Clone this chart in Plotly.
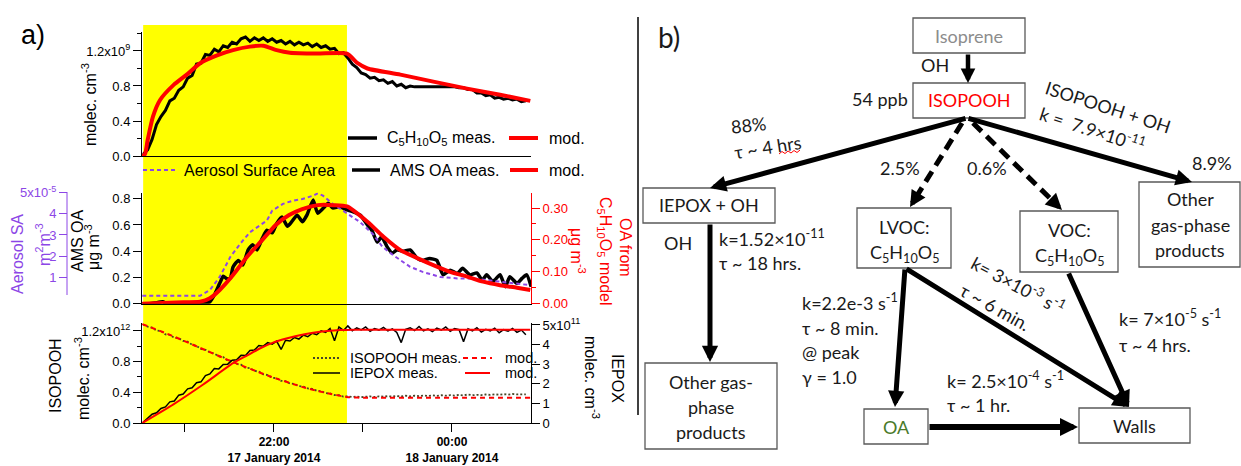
import plotly.graph_objects as go

W, H = 1241, 466
def fx(p): return p / W
def fy(p): return 1 - p / H

# ---------------- DATA (time in hours after 17 Jan 2014 00:00) ----------------
x_range = [20.517, 24.888]
lights_on = [20.53, 22.82]

meas_t0, meas_dt = 20.53, 0.05          # sampling grid of the gas-phase measurements

c5_meas = [0.02,0.07,0.19,0.36,0.45,0.52,0.63,0.66,0.75,0.79,
           0.89,0.92,1.05,1.06,1.16,1.15,1.22,1.19,1.26,1.24,
           1.30,1.28,1.34,1.36,1.31,1.35,1.32,1.35,1.31,1.34,
           1.30,1.32,1.28,1.31,1.27,1.30,1.27,1.29,1.25,1.28,
           1.24,1.26,1.22,1.23,1.17,1.18,1.12,1.05,1.01,0.95,
           0.93,0.89,0.90,0.86,0.87,0.83,0.85,0.80,0.82,0.78,
           0.80,0.79,0.79,0.79,0.79,0.79,0.79,0.79,0.79,0.79,
           0.79,0.78,0.78,0.76,0.76,0.72,0.72,0.69,0.70,0.66,
           0.67,0.65,0.66,0.64,0.65,0.62,0.63]          # x1e9 molec cm-3
c5_mod_t = [20.52,20.55,20.58,20.64,20.72,20.87,21.02,21.17,21.36,21.54,21.73,21.88,
            22.03,22.18,22.48,22.82,22.94,23.05,23.42,23.79,24.17,24.54,24.88]
c5_mod = [0.0,0.02,0.18,0.45,0.64,0.81,0.93,1.06,1.15,1.21,1.25,1.26,
          1.21,1.18,1.17,1.17,1.06,1.00,0.93,0.85,0.77,0.70,0.63]

ams_t = [20.52,20.60,20.66,20.75,20.80,20.90,21.00,21.10,21.17,21.23,21.28,21.34,21.39,21.43,
         21.47,21.51,21.54,21.60,21.65,21.71,21.76,21.81,21.87,21.92,21.98,22.03,22.09,22.15,
         22.20,22.26,22.32,22.37,22.44,22.49,22.55,22.61,22.66,22.74,22.80,22.89,22.97,23.05,
         23.10,23.16,23.21,23.27,23.33,23.38,23.45,23.53,23.61,23.67,23.75,23.83,23.90,23.98,
         24.06,24.12,24.20,24.28,24.34,24.39,24.46,24.54,24.60,24.65,24.73,24.79,24.84,24.89]
ams_oa = [0.00,0.00,0.005,0.015,0.00,0.005,0.00,0.00,0.00,0.005,0.015,0.08,0.155,0.21,
          0.19,0.195,0.28,0.33,0.295,0.41,0.45,0.41,0.50,0.56,0.54,0.61,0.66,0.59,
          0.625,0.675,0.625,0.675,0.79,0.69,0.725,0.765,0.73,0.74,0.72,0.70,0.675,0.60,
          0.56,0.47,0.51,0.435,0.385,0.41,0.40,0.41,0.345,0.33,0.345,0.33,0.22,0.255,
          0.23,0.27,0.22,0.235,0.18,0.22,0.17,0.22,0.13,0.205,0.155,0.195,0.22,0.13]   # ug m-3

oa_mod_t = [20.52,20.90,21.17,21.28,21.39,21.54,21.70,21.87,22.02,22.17,22.31,22.49,22.67,
            22.82,23.05,23.23,23.42,23.61,23.79,23.98,24.17,24.35,24.54,24.73,24.88]
oa_mod = [0.0,0.004,0.006,0.017,0.043,0.090,0.148,0.200,0.247,0.278,0.296,0.309,0.309,
          0.305,0.257,0.210,0.168,0.143,0.121,0.100,0.085,0.069,0.058,0.050,0.043]  # ug m-3

sa_t = [20.52,21.17,21.28,21.39,21.51,21.62,21.73,21.84,21.92,21.98,22.10,22.21,22.32,22.44,
        22.49,22.55,22.66,22.82,22.97,23.11,23.22,23.34,23.42,23.53,23.67,23.87,24.06,24.24,
        24.39,24.54,24.68,24.88]
sa = [0.12,0.12,0.39,1.01,1.96,2.58,3.13,3.45,3.68,4.15,4.47,4.62,4.70,4.86,
      4.97,4.86,4.47,4.02,3.60,3.05,2.43,2.04,1.80,1.49,1.25,1.01,0.94,0.94,
      0.86,0.78,0.70,0.62]   # x1e-5 m2 m-3

isopooh_meas = [1.285,1.255,1.245,1.205,1.20,1.155,1.15,1.11,1.105,1.07,
                1.06,1.02,1.005,0.965,0.955,0.92,0.905,0.87,0.86,0.815,
                0.81,0.77,0.76,0.72,0.715,0.68,0.67,0.635,0.625,0.59,
                0.585,0.55,0.545,0.515,0.51,0.48,0.475,0.45,0.445,0.42,
                0.415,0.39,0.385,0.365,0.362,0.345,0.348,0.338,0.345,0.336,
                0.342,0.347,0.34,0.348,0.343,0.35,0.345,0.352,0.346,0.355,
                0.348,0.356,0.35,0.358,0.352,0.36,0.354,0.362,0.356,0.364,
                0.358,0.366,0.36,0.372,0.362,0.368,0.364,0.372,0.366,0.374,
                0.368,0.376,0.37,0.378,0.372,0.376,0.374]   # x1e12
isopooh_mod_t = [20.52,20.85,21.15,21.55,21.95,22.35,22.65,22.85,23.0,24.88]
isopooh_mod = [1.29,1.14,0.99,0.79,0.61,0.46,0.375,0.335,0.33,0.33]

iepox_meas = [0.03,0.22,0.45,0.52,0.74,0.82,1.08,1.12,1.42,1.48,
              1.74,1.80,2.05,2.10,2.42,2.50,2.78,2.76,2.98,3.00,
              3.20,3.22,3.45,3.44,3.70,3.72,3.95,3.92,4.10,4.02,
              4.18,3.75,4.22,4.18,4.36,4.28,4.48,4.40,4.58,4.50,
              4.70,4.62,4.82,4.20,4.90,4.72,4.95,4.70,4.85,4.75,
              4.90,4.68,4.82,4.74,4.88,4.70,4.80,4.62,4.10,4.78,
              4.86,4.72,4.92,4.70,4.80,4.66,4.84,4.74,4.90,4.68,
              4.82,4.76,4.15,4.80,4.70,4.86,4.64,4.78,4.70,4.84,
              4.60,4.76,4.68,4.82,4.62,4.74,4.50]   # x1e11
iepox_mod_t = [20.52,20.87,21.20,21.54,21.70,21.84,21.99,22.15,22.29,22.44,22.60,22.74,22.90,24.88]
iepox_mod = [0.0,0.95,1.95,3.05,3.45,3.80,4.10,4.32,4.48,4.60,4.69,4.74,4.76,4.76]

x_tickvals = [21, 22, 23, 24]
x_ticktext = ['', '<b>22:00</b><br><b>17 January 2014</b>', '', '<b>00:00</b><br><b>18 January 2014</b>']

def grid(vals):
    return [meas_t0 + meas_dt * i for i in range(len(vals))]

# ---------------- FIGURE ----------------
FA = 'Liberation Sans'
FB = 'Lato'
PURPLE = 'rgb(140,70,230)'
RED = '#ff0000'
DARK = '#1a1a1a'

fig = go.Figure()
# top panel
fig.add_trace(go.Scatter(x=grid(c5_meas), y=c5_meas, xaxis='x', yaxis='y', mode='lines',
                         line=dict(color='black', width=3)))
fig.add_trace(go.Scatter(x=c5_mod_t, y=c5_mod, xaxis='x', yaxis='y', mode='lines',
                         line=dict(color=RED, width=4, shape='spline', smoothing=0.6)))
# middle panel
fig.add_trace(go.Scatter(x=sa_t, y=sa, xaxis='x2', yaxis='y5', mode='lines',
                         line=dict(color=PURPLE, width=2, dash='4px,3px')))
fig.add_trace(go.Scatter(x=ams_t, y=ams_oa, xaxis='x2', yaxis='y2', mode='lines',
                         line=dict(color='black', width=3.5, shape='spline', smoothing=0.5)))
fig.add_trace(go.Scatter(x=oa_mod_t, y=oa_mod, xaxis='x2', yaxis='y6', mode='lines',
                         line=dict(color=RED, width=4, shape='spline', smoothing=0.6)))
# bottom panel
fig.add_trace(go.Scatter(x=grid(isopooh_meas), y=isopooh_meas, xaxis='x3', yaxis='y3', mode='lines',
                         line=dict(color='rgb(70,70,40)', width=1.8, dash='2px,2px')))
fig.add_trace(go.Scatter(x=isopooh_mod_t, y=isopooh_mod, xaxis='x3', yaxis='y3', mode='lines',
                         line=dict(color=RED, width=2, dash='5px,4px', shape='spline', smoothing=0.6)))
fig.add_trace(go.Scatter(x=grid(iepox_meas), y=iepox_meas, xaxis='x3', yaxis='y4', mode='lines',
                         line=dict(color='black', width=1.5)))
fig.add_trace(go.Scatter(x=iepox_mod_t, y=iepox_mod, xaxis='x3', yaxis='y4', mode='lines',
                         line=dict(color=RED, width=2, shape='spline', smoothing=0.6)))

XD = [fx(142), fx(531)]
tickfont = dict(family=FA, size=13, color='black')
base = dict(showgrid=False, zeroline=False, showline=True, linecolor='black', linewidth=1,
            tickfont=tickfont, automargin=False, ticklen=8, tickwidth=1, tickcolor='black')

def xax(anchor, labels):
    d = dict(base, domain=XD, range=x_range, anchor=anchor)
    if labels:
        d.update(ticks='outside', tickvals=x_tickvals, ticktext=x_ticktext,
                 tickfont=dict(family=FA, size=12, color='black'))
    else:
        d.update(ticks='', showticklabels=False)
    return d

fig.update_layout(
    width=W, height=H, margin=dict(l=0, r=0, t=0, b=0), template='none',
    paper_bgcolor='white', plot_bgcolor='rgba(0,0,0,0)', showlegend=False,
    font=dict(family=FA, size=13, color='black'),
    xaxis=xax('y', False), xaxis2=xax('y2', False), xaxis3=xax('y3', True),
    yaxis=dict(base, domain=[fy(156), fy(32)], range=[0, 1.417], anchor='x', ticks='outside',
               tickvals=[0, 0.4, 0.8, 1.2], ticktext=['0.0', '0.4', '0.8', '1.2x10<sup>9</sup>'],
               minor=dict(tickvals=[0.2, 0.6, 1.0, 1.4], ticks='outside', ticklen=4, tickcolor='black')),
    yaxis2=dict(base, domain=[fy(303.7), fy(192.7)], range=[0, 0.846], anchor='x2', ticks='outside',
                tickvals=[0, 0.2, 0.4, 0.6, 0.8], ticktext=['0.0', '0.2', '0.4', '0.6', '0.8']),
    yaxis5=dict(base, overlaying='y2', anchor='free', position=fx(67), side='left',
                range=[-0.256, 5.0], ticks='outside', showline=False, tickcolor=PURPLE,
                tickvals=[1, 2, 3, 4, 5], ticktext=['1', '2', '3', '4', '5x10<sup>-5</sup>'],
                tickfont=dict(family=FA, size=13, color=PURPLE)),
    yaxis6=dict(base, overlaying='y2', anchor='x2', side='right', range=[0, 0.348], ticks='outside',
                linecolor=RED, tickcolor=RED, tickfont=dict(family=FA, size=13, color=RED),
                tickvals=[0, 0.1, 0.2, 0.3], ticktext=['0.00', '0.10', '0.20', '0.30'],
                minor=dict(tickvals=[0.05, 0.15, 0.25, 0.35], ticks='outside', ticklen=4, tickcolor=RED)),
    yaxis3=dict(base, domain=[fy(423), fy(323)], range=[0, 1.304], anchor='x3', ticks='outside',
                tickvals=[0, 0.4, 0.8, 1.2], ticktext=['0.0', '0.4', '0.8', '1.2x10<sup>12</sup>'],
                minor=dict(tickvals=[0.2, 0.6, 1.0], ticks='outside', ticklen=4, tickcolor='black')),
    yaxis4=dict(base, overlaying='y3', anchor='x3', side='right', range=[0, 5.1], ticks='outside',
                tickvals=[0, 1, 2, 3, 4, 5], ticktext=['0', '1', '2', '3', '4', '5x10<sup>11</sup>']),
)

shapes = []
ann = []

# lights-on period (yellow)
shapes.append(dict(type='rect', xref='x', yref='paper', x0=lights_on[0], x1=lights_on[1],
                   y0=fy(423), y1=fy(25), fillcolor='#ffff00', line=dict(width=0), layer='below'))
# purple surface-area axis spine (shorter than the panel, as in the original)
shapes.append(dict(type='line', xref='paper', yref='paper', x0=fx(67), x1=fx(67),
                   y0=fy(295), y1=fy(192), line=dict(color=PURPLE, width=1)))

def T(x, y, s, size=16, color='black', xanchor='center', angle=0, family=FA):
    ann.append(dict(x=fx(x), y=fy(y), xref='paper', yref='paper', text=s, showarrow=False,
                    font=dict(family=family, size=size, color=color), xanchor=xanchor,
                    yanchor='middle', textangle=angle))

def L(x0, x1, y, color, width, dash='solid'):
    shapes.append(dict(type='line', xref='paper', yref='paper', x0=fx(x0), x1=fx(x1),
                       y0=fy(y), y1=fy(y), line=dict(color=color, width=width, dash=dash)))

C5 = 'C<sub>5</sub>H<sub>10</sub>O<sub>5</sub>'
# panel a labels
T(33, 35, 'a)', size=27)
T(89, 105, 'molec. cm<sup>-3</sup>', angle=-90)
T(17, 254, 'Aerosol SA', color=PURPLE, angle=-90)
T(43, 245, 'm<sup>2</sup>m<sup>-3</sup>', color=PURPLE, angle=-90)
T(77, 241, 'AMS OA', angle=-90)
T(92, 247, 'μg m<sup>-3</sup>', angle=-90)
T(578, 251, 'μg m<sup>-3</sup>', color=RED, angle=90)
T(605, 251, C5 + ' model', color=RED, angle=90)
T(626, 247, 'OA from', color=RED, angle=90)
T(55, 375, 'ISOPOOH', angle=-90)
T(82, 379, 'molec. cm<sup>-3</sup>', angle=-90)
T(592, 377, 'molec. cm<sup>-3</sup>', angle=90)
T(618, 378, 'IEPOX', angle=90)

# legends
L(348, 377, 138, 'black', 3.5); T(385, 138, C5 + ' meas.', xanchor='left')
L(509, 538, 138, RED, 4); T(547, 138, 'mod.', xanchor='left')
L(143, 175, 170, PURPLE, 2, '4px,3px'); T(182, 170, 'Aerosol Surface Area', xanchor='left')
L(352, 380, 170, 'black', 3.5); T(388, 170, 'AMS OA meas.', xanchor='left')
L(510, 538, 170, RED, 4); T(547, 170, 'mod.', xanchor='left')
L(313, 340, 358, 'rgb(70,70,40)', 1.8, '2px,2px'); T(348, 358, 'ISOPOOH meas.', size=14.5, xanchor='left')
L(463, 492, 358, RED, 2, '5px,4px'); T(503, 358, 'mod.', size=14.5, xanchor='left')
L(313, 340, 373, 'black', 1.5); T(348, 373, 'IEPOX meas.', size=14.5, xanchor='left')
L(465, 490, 373, RED, 2); T(503, 373, 'mod.', size=14.5, xanchor='left')

# ---------------- panel b: reaction scheme ----------------
shapes.append(dict(type='line', xref='paper', yref='paper', x0=fx(638), x1=fx(638),
                   y0=fy(17), y1=fy(415), line=dict(color='black', width=1.5)))

def box(x0, y0, x1, y1):
    shapes.append(dict(type='rect', xref='paper', yref='paper', x0=fx(x0), x1=fx(x1),
                       y0=fy(y1), y1=fy(y0), line=dict(color='#595959', width=1.3),
                       fillcolor='rgba(0,0,0,0)'))

def arrow(x0, y0, x1, y1, w=5, size=0.65):
    ann.append(dict(x=fx(x1), y=fy(y1), xref='paper', yref='paper', ax=x0 - x1, ay=y0 - y1,
                    axref='pixel', ayref='pixel', text='', showarrow=True, arrowhead=2,
                    arrowsize=size, arrowwidth=w, arrowcolor='black', standoff=0))

def dashed_arrow(x0, y0, x1, y1, w=5):
    dx, dy = x1 - x0, y1 - y0
    n = (dx * dx + dy * dy) ** 0.5
    ux, uy = dx / n, dy / n
    hx, hy = x1 - ux * 14, y1 - uy * 14
    shapes.append(dict(type='line', xref='paper', yref='paper', x0=fx(x0), y0=fy(y0),
                       x1=fx(hx), y1=fy(hy), line=dict(color='black', width=w, dash='12px,7px')))
    arrow(hx, hy, x1, y1, w=w)

BS = 18   # box text size
LS = 18   # label text size
box(913, 18, 1025, 53); T(969, 36, 'Isoprene', color='#8c8c8c', family=FB, size=BS)
box(913, 83, 1025, 118); T(969, 100, 'ISOPOOH', color=RED, family=FB, size=BS)
box(643, 188, 775, 223); T(709, 205, 'IEPOX + OH', color=DARK, family=FB, size=BS)
box(645, 363, 777, 449)
T(711, 382, 'Other gas-', color=DARK, family=FB, size=BS)
T(711, 407, 'phase', color=DARK, family=FB, size=BS)
T(711, 432, 'products', color=DARK, family=FB, size=BS)
box(857, 208, 951, 268)
T(904, 227, 'LVOC:', color=DARK, family=FB, size=BS); T(904, 253, C5, color=DARK, family=FB, size=BS)
box(1020, 211, 1118, 272)
T(1069, 230, 'VOC:', color=DARK, family=FB, size=BS); T(1069, 256, C5, color=DARK, family=FB, size=BS)
box(1139, 182, 1240, 267)
T(1190, 199, 'Other', color=DARK, family=FB, size=BS)
T(1190, 225, 'gas-phase', color=DARK, family=FB, size=BS)
T(1190, 250, 'products', color=DARK, family=FB, size=BS)
box(864, 409, 928, 444); T(896, 427, 'OA', color='#4a7a2a', family=FB, size=BS)
box(1079, 408, 1190, 443); T(1134, 426, 'Walls', color=DARK, family=FB, size=BS)

arrow(968, 53, 968, 83, w=4.5)
arrow(967, 118, 710, 188)
arrow(967, 118, 1192, 182)
dashed_arrow(962, 123, 910, 207)
dashed_arrow(973, 123, 1062, 210)
arrow(710, 223, 710, 362)
arrow(905, 268, 895, 407)
arrow(905, 268, 1129, 407)
arrow(1068, 272, 1129, 407)
arrow(928, 427, 1078, 427, w=6, size=0.6)

def Lb(x, y, s, **kw):
    kw.setdefault('size', LS)
    kw.setdefault('color', DARK)
    T(x, y, s, family=FB, **kw)

Lb(669, 37, 'b)', size=28)
Lb(935, 65, 'OH')
Lb(880, 99, '54 ppb')
Lb(748, 125, '88%', angle=-6)
Lb(768, 147, 'τ ~ 4 hrs', angle=-9)
# spell-check squiggle under "hrs"
shapes.append(dict(type='path', xref='paper', yref='paper', line=dict(color=RED, width=1),
                   path='M{},{} L{},{} L{},{} L{},{} L{},{} L{},{} L{},{} L{},{}'.format(
                       fx(779), fy(154), fx(782), fy(151.5), fx(785), fy(153.5), fx(788), fy(151),
                       fx(791), fy(153), fx(794), fy(150.5), fx(797), fy(152.5), fx(800), fy(150))))
Lb(900, 168, '2.5%')
Lb(987, 168, '0.6%')
Lb(1212, 163, '8.9%')
Lb(1108, 107, 'ISOPOOH + OH', angle=18)
Lb(1092, 129, 'k =  7.9×10<sup>-11</sup>', angle=18)
Lb(678, 243, 'OH')
Lb(717, 238, 'k=1.52×10<sup>-11</sup>', xanchor='left')
Lb(717, 263, 'τ ~ 18 hrs.', xanchor='left')
Lb(800, 302, 'k=2.2e-3 s<sup>-1</sup>', xanchor='left')
Lb(800, 328, 'τ ~ 8 min.', xanchor='left')
Lb(800, 352, '@ peak', xanchor='left')
Lb(800, 377, 'γ = 1.0', xanchor='left')
Lb(1018, 285, 'k= 3×10<sup>-3</sup> s<sup>-1</sup>', angle=28)
Lb(995, 307, 'τ ~ 6 min.', angle=29)
Lb(1117, 318, 'k= 7×10<sup>-5</sup> s<sup>-1</sup>', xanchor='left')
Lb(1117, 345, 'τ ~ 4 hrs.', xanchor='left')
Lb(945, 380, 'k= 2.5×10<sup>-4</sup> s<sup>-1</sup>', xanchor='left')
Lb(945, 405, 'τ ~ 1 hr.', xanchor='left')

fig.update_layout(shapes=shapes, annotations=ann)
fig.write_html('out.html')
